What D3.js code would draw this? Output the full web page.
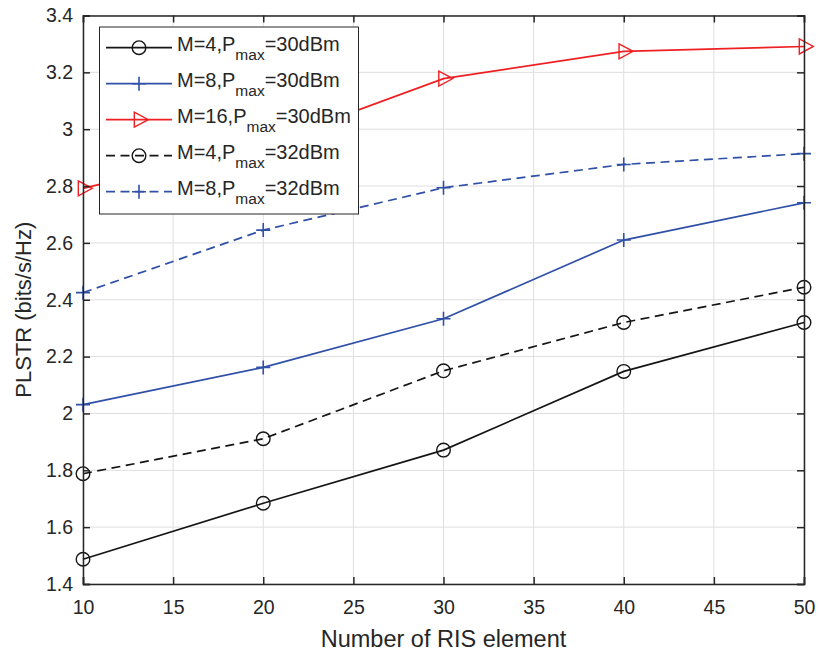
<!DOCTYPE html>
<html>
<head>
<meta charset="utf-8">
<script src="https://cdn.jsdelivr.net/npm/d3@7"></script>
<style>
    body { margin: 0; background: #fff; }
    svg { display: block; font-family: "Liberation Sans", Arial, sans-serif; }
</style>
</head>
<body>
<div class="chart"></div>
<script>
// values
const risElements = [10, 20, 30, 40, 50];
const m4p30 = [1.487, 1.684, 1.871, 2.148, 2.320];
const m8p30 = [2.031, 2.162, 2.333, 2.610, 2.741];
const m16p30 = [2.792, 2.945, 3.178, 3.274, 3.291];
const m4p32 = [1.788, 1.911, 2.150, 2.320, 2.444];
const m8p32 = [2.425, 2.645, 2.794, 2.876, 2.914];
const xTicks = [10, 15, 20, 25, 30, 35, 40, 45, 50];
const yTicks = [1.4, 1.6, 1.8, 2, 2.2, 2.4, 2.6, 2.8, 3, 3.2, 3.4];

const width = 819, height = 656;
const pLeft = 83, pRight = 804, pTop = 15.5, pBottom = 584;

const series = [
    { m: 'M=4,P', p: '=30dBm', vals: m4p30, color: '#151515', dash: null, marker: 'circle' },
    { m: 'M=8,P', p: '=30dBm', vals: m8p30, color: '#3050a8', dash: null, marker: 'plus' },
    { m: 'M=16,P', p: '=30dBm', vals: m16p30, color: '#ee2024', dash: null, marker: 'tri' },
    { m: 'M=4,P', p: '=32dBm', vals: m4p32, color: '#151515', dash: '9,5.5', marker: 'circle' },
    { m: 'M=8,P', p: '=32dBm', vals: m8p32, color: '#3050a8', dash: '9,5.5', marker: 'plus' }
];

let svg = d3.select('.chart')
    .append('svg')
    .attr('width', width)
    .attr('height', height);

let x_scale = d3.scaleLinear().domain([10, 50]).range([pLeft, pRight]);
let y_scale = d3.scaleLinear().domain([1.4, 3.4]).range([pBottom, pTop]);

// grid
let grid = svg.append('g').attr('stroke', '#dedede').attr('stroke-width', 1);
grid.selectAll('.gx')
    .data(xTicks)
    .join('line')
    .attr('x1', d => x_scale(d)).attr('x2', d => x_scale(d))
    .attr('y1', pTop).attr('y2', pBottom);
grid.selectAll('.gy')
    .data(yTicks)
    .join('line')
    .attr('y1', d => y_scale(d)).attr('y2', d => y_scale(d))
    .attr('x1', pLeft).attr('x2', pRight);

function drawMarker(g, type, color) {
    if (type === 'circle') {
        g.append('circle').attr('r', 6.8)
            .attr('fill', 'none').attr('stroke', color).attr('stroke-width', 1.4);
    } else if (type === 'plus') {
        g.append('path').attr('d', 'M-7,0H7M0,-7V7')
            .attr('fill', 'none').attr('stroke', color).attr('stroke-width', 1.6);
    } else {
        g.append('path').attr('d', 'M-4.7,-7.5L9.3,0L-4.7,7.5Z')
            .attr('fill', 'none').attr('stroke', color).attr('stroke-width', 1.4);
    }
}

let line = d3.line()
    .x((d, i) => x_scale(risElements[i]))
    .y(d => y_scale(d));

let plot = svg.append('g');
series.forEach(s => {
    plot.append('path')
        .datum(s.vals)
        .attr('d', line)
        .attr('fill', 'none')
        .attr('stroke', s.color)
        .attr('stroke-width', 1.7)
        .attr('stroke-dasharray', s.dash);
    s.vals.forEach((v, i) => {
        let g = plot.append('g')
            .attr('transform', `translate(${x_scale(risElements[i])}, ${y_scale(v)})`);
        drawMarker(g, s.marker, s.color);
    });
});

// axes with inward ticks on all four sides
const axisColor = '#262626';
let x_Axis = d3.axisBottom(x_scale).tickValues(xTicks).tickSize(-7).tickPadding(16.5).tickFormat(d => d);
let y_Axis = d3.axisLeft(y_scale).tickValues(yTicks).tickSize(-7).tickPadding(10).tickFormat(d => d);
let xTop = d3.axisTop(x_scale).tickValues(xTicks).tickSize(-7).tickFormat('');
let yRight = d3.axisRight(y_scale).tickValues(yTicks).tickSize(-7).tickFormat('');

[[x_Axis, `translate(0, ${pBottom})`], [y_Axis, `translate(${pLeft}, 0)`],
 [xTop, `translate(0, ${pTop})`], [yRight, `translate(${pRight}, 0)`]].forEach(a => {
    let g = svg.append('g').attr('transform', a[1]).call(a[0]);
    g.select('.domain').attr('stroke', axisColor).attr('stroke-width', 1.5);
    g.selectAll('.tick line').attr('stroke', axisColor).attr('stroke-width', 1.5);
    g.selectAll('.tick text')
        .attr('fill', axisColor)
        .style('font-size', '19.5px')
        .style('font-family', '"Liberation Sans", Arial, sans-serif');
});

svg.append('text')
    .attr('x', (pLeft + pRight) / 2)
    .attr('y', 647)
    .attr('text-anchor', 'middle')
    .attr('fill', axisColor)
    .style('font-size', '23.5px')
    .text('Number of RIS element');

svg.append('text')
    .attr('transform', `translate(31, ${(pTop + pBottom) / 2 + 10}) rotate(-90)`)
    .attr('text-anchor', 'middle')
    .attr('fill', axisColor)
    .style('font-size', '22px')
    .text('PLSTR (bits/s/Hz)');

// legend
let legend = svg.append('g');
legend.append('rect')
    .attr('x', 99.5).attr('y', 27)
    .attr('width', 259).attr('height', 187)
    .attr('fill', '#fff')
    .attr('stroke', axisColor)
    .attr('stroke-width', 1);
series.forEach((s, i) => {
    let y = 47.7 + i * 36;
    legend.append('line')
        .attr('x1', 106).attr('x2', 172)
        .attr('y1', y).attr('y2', y)
        .attr('stroke', s.color)
        .attr('stroke-width', 1.7)
        .attr('stroke-dasharray', s.dash);
    let g = legend.append('g').attr('transform', `translate(139, ${y})`);
    drawMarker(g, s.marker, s.color);
    let t = legend.append('text')
        .attr('x', 177)
        .attr('y', y + 3.5)
        .attr('fill', axisColor)
        .style('font-size', '20px');
    t.append('tspan').text(s.m);
    t.append('tspan').attr('dy', 9).style('font-size', '15.5px').text('max');
    t.append('tspan').attr('dy', -9).text(s.p);
});
</script>
</body>
</html>
